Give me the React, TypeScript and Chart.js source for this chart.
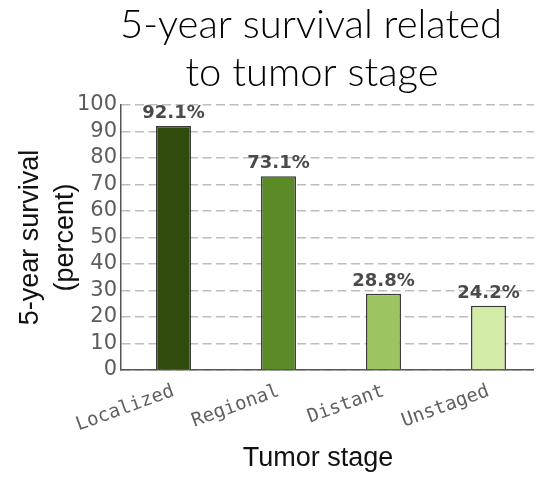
import React, { useEffect, useRef } from "react";
import { Chart, registerables } from "chart.js";

Chart.register(...registerables);

const categories = ["Localized", "Regional", "Distant", "Unstaged"];
const survival = [92.1, 73.1, 28.8, 24.2];
const valueLabels = ["92.1%", "73.1%", "28.8%", "24.2%"];
const barColors = ["#2f4c0c", "#5b8a26", "#9cc462", "#d2eba6"];
const titleLines = ["5-year survival related", "to tumor stage"];
const yTitleLines = ["5-year survival", "(percent)"];
const xTitle = "Tumor stage";

const textPlugin = {
  id: "textPlugin",
  afterDraw(chart: any) {
    const ctx = chart.ctx;
    const area = chart.chartArea;
    ctx.save();
    // main title
    ctx.fillStyle = "#000";
    ctx.textAlign = "center";
    ctx.textBaseline = "alphabetic";
    ctx.font = "300 40px Lato";
    ctx.fillText(titleLines[0], 303, 30);
    ctx.fillText(titleLines[1], 304, 78);
    // x title
    ctx.fillStyle = "#111";
    ctx.font = "27px 'Liberation Sans'";
    ctx.fillText(xTitle, 310, 458);
    // y title
    ctx.save();
    ctx.translate(0, (area.top + area.bottom) / 2);
    ctx.rotate(-Math.PI / 2);
    ctx.textBaseline = "middle";
    ctx.fillText(yTitleLines[0], 0, 23);
    ctx.fillText(yTitleLines[1], 0, 58);
    ctx.restore();
    ctx.restore();
  },
  afterDatasetsDraw(chart: any) {
    const ctx = chart.ctx;
    const meta = chart.getDatasetMeta(0);
    ctx.save();
    ctx.fillStyle = "#4a4a4a";
    ctx.font = "bold 18px 'DejaVu Sans'";
    ctx.textAlign = "center";
    ctx.textBaseline = "alphabetic";
    meta.data.forEach((bar: any, i: number) => {
      ctx.fillText(valueLabels[i], bar.x, bar.y - 8);
    });
    ctx.restore();
  },
};

export default function App() {
  const ref = useRef<HTMLCanvasElement>(null);
  useEffect(() => {
    if (!ref.current) return;
    const chart = new Chart(ref.current, {
      type: "bar",
      data: {
        labels: categories,
        datasets: [
          {
            data: survival,
            backgroundColor: barColors,
            borderColor: "#3a3a3a",
            borderWidth: 1.5,
            barPercentage: 0.333,
            categoryPercentage: 1,
          },
        ],
      },
      options: {
        animation: false,
        responsive: false,
        maintainAspectRatio: false,
        layout: { padding: { top: 97, right: 1, left: 0, bottom: 0 } },
        plugins: {
          legend: { display: false },
          tooltip: { enabled: false },
          title: { display: false },
        },
        scales: {
          x: {
            grid: { display: false, drawTicks: false },
            border: { display: true, color: "#555", width: 1.5 },
            ticks: {
              color: "#606060",
              font: { family: "'DejaVu Sans Mono'", size: 19 },
              minRotation: 20,
              maxRotation: 20,
              padding: 10,
            },
            afterFit: (s: any) => {
              s.height = 107;
            },
          },
          y: {
            min: 0,
            max: 100,
            grid: {
              color: "#bdbdbd",
              lineWidth: 1.5,
              drawTicks: false,
            },
            border: { display: true, color: "#555", width: 1.5, dash: [9, 4.5] },
            ticks: {
              stepSize: 10,
              autoSkip: false,
              color: "#5c5c5c",
              font: { family: "'DejaVu Sans'", size: 21 },
              padding: 4,
            },
            afterFit: (s: any) => {
              s.width = 113;
            },
          },
        },
      },
      plugins: [textPlugin],
    });
    return () => chart.destroy();
  }, []);
  return (
    <div style={{ width: 534, height: 469 }}>
      <canvas ref={ref} width={534} height={469} style={{ width: 534, height: 469 }} />
    </div>
  );
}
